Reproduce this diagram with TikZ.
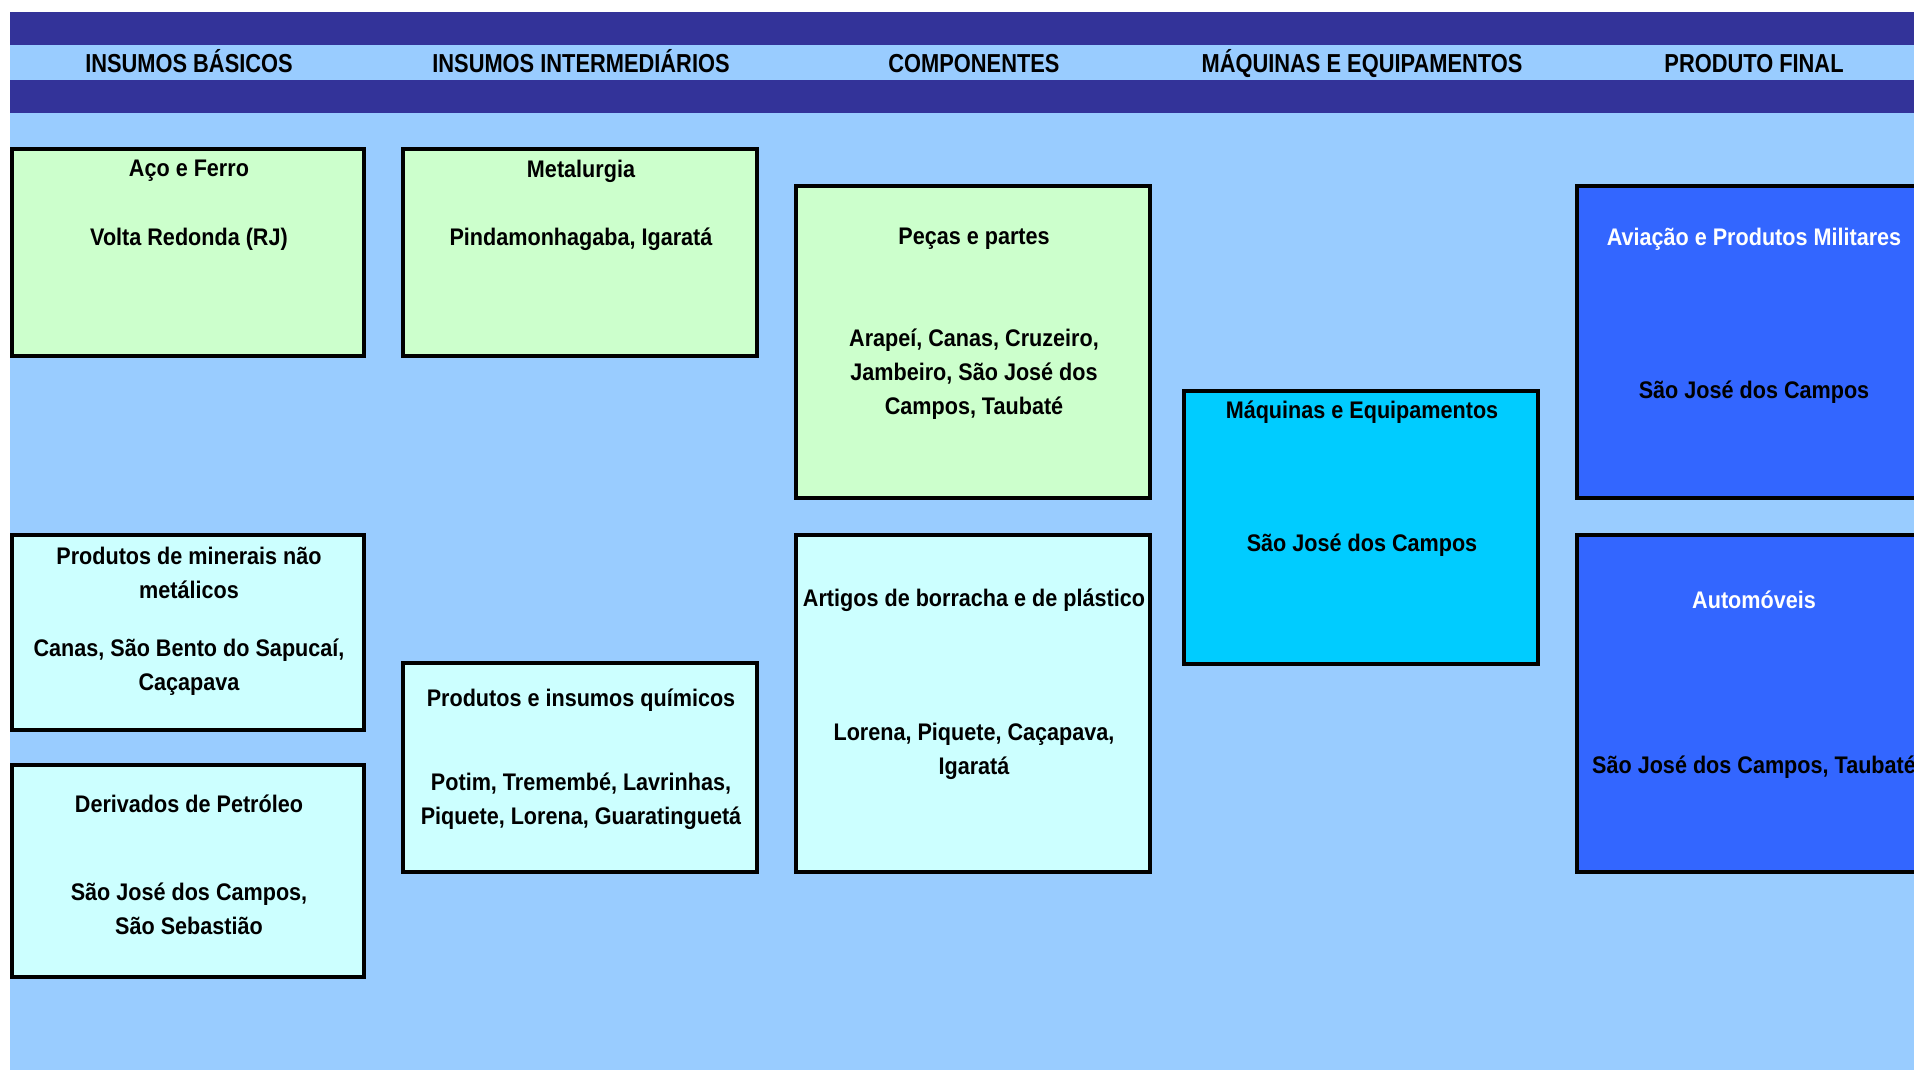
\documentclass[tikz,border=0pt]{standalone}
\usepackage{fontspec}
\setmainfont{Liberation Sans}[FakeStretch=0.9]
\newfontfamily\cabecfont{Liberation Sans}[FakeStretch=0.84]
\definecolor{faixa}{HTML}{333399}
\definecolor{fundo}{HTML}{99CCFF}
\definecolor{verde}{HTML}{CCFFCC}
\definecolor{ciano}{HTML}{CCFFFF}
\definecolor{maq}{HTML}{00CCFF}
\definecolor{azul}{HTML}{3366FF}
\begin{document}
\begin{tikzpicture}[x=0.5pt,y=-0.5pt,
    caixa/.style={draw=black, line width=2.25pt},
    txt/.style={font=\fontsize{12}{17}\selectfont\bfseries, align=center, inner sep=0pt, yshift=-1.5pt},
    cabec/.style={font=\cabecfont\fontsize{13}{15}\selectfont\bfseries, inner sep=0pt, text height=9.3pt, text depth=0pt}]
        \useasboundingbox (0,0) rectangle (1914,1070);
        \clip (0,0) rectangle (1914,1070);
        \fill[fundo] (10,12) rectangle (1914,1070);
        \fill[faixa] (10,12) rectangle (1914,45);
        \fill[faixa] (10,80) rectangle (1914,113);
        \node[cabec] (cab1) at (189,63) {INSUMOS BÁSICOS};
        \node[cabec] (cab2) at (581,63) {INSUMOS INTERMEDIÁRIOS};
        \node[cabec] (cab3) at (974,63) {COMPONENTES};
        \node[cabec] (cab4) at (1362,63) {MÁQUINAS E EQUIPAMENTOS};
        \node[cabec] (cab5) at (1754,63) {PRODUTO FINAL};
        \draw[caixa, fill=verde] (12,149) rectangle (364,356);
        \node[txt] (aco) at (189,168) {Aço e Ferro};
        \node[txt] (acoLoc) at (189,236) {Volta Redonda (RJ)};
        \draw[caixa, fill=verde] (403,149) rectangle (757,356);
        \node[txt] (metal) at (581,168) {Metalurgia};
        \node[txt] (metalLoc) at (581,236) {Pindamonhagaba, Igaratá};
        \draw[caixa, fill=ciano] (12,535) rectangle (364,730);
        \node[txt] (miner) at (189,570) {Produtos de minerais não\\metálicos};
        \node[txt] (minerLoc) at (189,664) {Canas, São Bento do Sapucaí,\\Caçapava};
        \draw[caixa, fill=ciano] (12,765) rectangle (364,977);
        \node[txt] (deriv) at (189,801) {Derivados de Petróleo};
        \node[txt] (derivLoc) at (189,906) {São José dos Campos,\\São Sebastião};
        \draw[caixa, fill=ciano] (403,663) rectangle (757,872);
        \node[txt] (quim) at (581,697) {Produtos e insumos químicos};
        \node[txt] (quimLoc) at (581,798) {Potim, Tremembé, Lavrinhas,\\Piquete, Lorena, Guaratinguetá};
        \draw[caixa, fill=verde] (796,186) rectangle (1150,498);
        \node[txt] (pecas) at (974,236) {Peças e partes};
        \node[txt] (pecasLoc) at (974,371) {Arapeí, Canas, Cruzeiro,\\Jambeiro, São José dos\\Campos, Taubaté};
        \draw[caixa, fill=ciano] (796,535) rectangle (1150,872);
        \node[txt] (borr) at (974,597) {Artigos de borracha e de plástico};
        \node[txt] (borrLoc) at (974,748) {Lorena, Piquete, Caçapava,\\Igaratá};
        \draw[caixa, fill=maq] (1184,391) rectangle (1538,664);
        \node[txt] (maqT) at (1362,409) {Máquinas e Equipamentos};
        \node[txt] (maqLoc) at (1362,542) {São José dos Campos};
        \draw[caixa, fill=azul] (1577,186) rectangle (1931,498);
        \node[txt, text=white] (aviao) at (1754,236) {Aviação e Produtos Militares};
        \node[txt] (aviaoLoc) at (1754,389) {São José dos Campos};
        \draw[caixa, fill=azul] (1577,535) rectangle (1931,872);
        \node[txt, text=white] (auto) at (1754,597) {Automóveis};
        \node[txt] (autoLoc) at (1754,764) {São José dos Campos, Taubaté};
    \end{tikzpicture}
\end{document}
